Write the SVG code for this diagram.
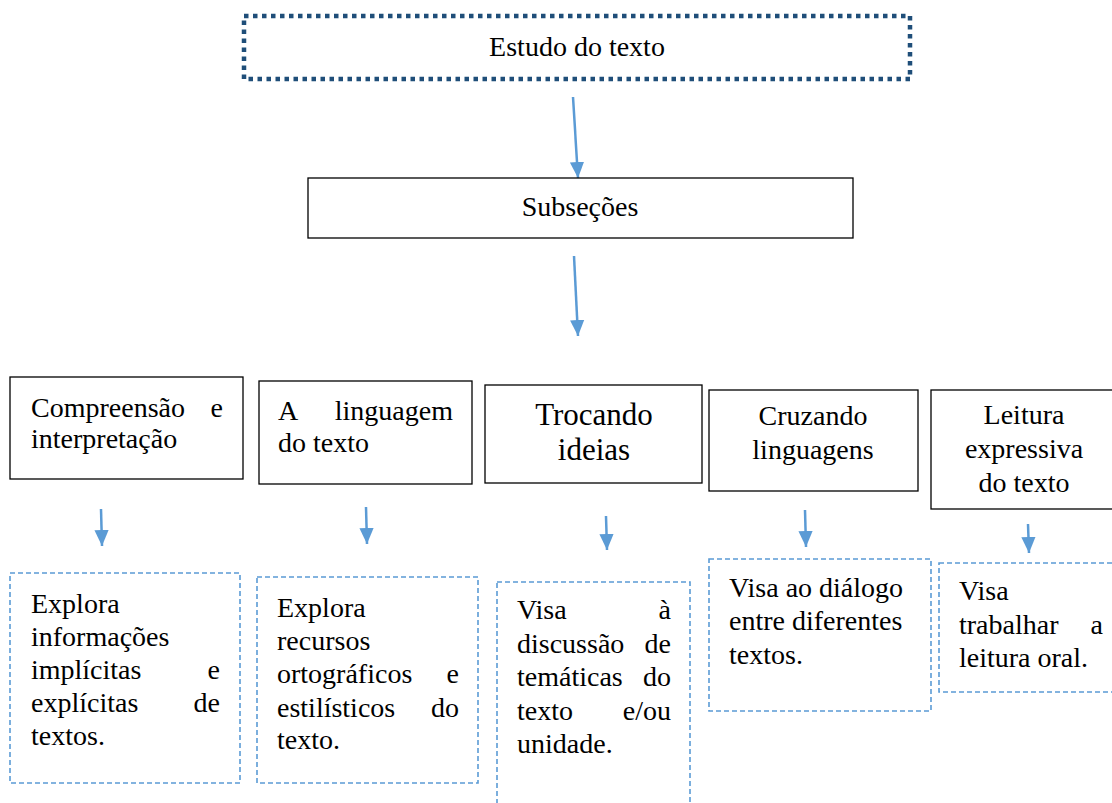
<svg xmlns="http://www.w3.org/2000/svg" width="1112" height="803" viewBox="0 0 1112 803" font-family="'Liberation Serif', 'Times New Roman', serif">
<defs>
<style>
text{font-size:28px;fill:#000}
.c{text-anchor:middle}
.r{text-anchor:end}
.big{font-size:31px}
.box{fill:#fff;stroke:#000;stroke-width:1.3}
.dash{fill:#fff;stroke:#5b9bd5;stroke-width:1.6;stroke-dasharray:5 3}
.top{fill:#fff;stroke:#1f4e79;stroke-width:4.5;stroke-dasharray:4.5 4.5}
.arr{stroke:#5b9bd5;stroke-width:2.5;fill:none;marker-end:url(#ah)}
</style>
<marker id="ah" markerUnits="userSpaceOnUse" markerWidth="16" markerHeight="16" refX="18" refY="8" orient="auto" viewBox="0 0 18 16">
<path d="M0,0 L18,8 L0,16 z" fill="#5b9bd5"/>
</marker>
</defs>
<g id="connectors">
<line class="arr" x1="573" y1="97" x2="578" y2="178"/>
<line class="arr" x1="574" y1="256" x2="578" y2="336"/>
<line class="arr" x1="101" y1="509" x2="102" y2="546"/>
<line class="arr" x1="366" y1="507" x2="367" y2="544"/>
<line class="arr" x1="606" y1="516" x2="607" y2="550"/>
<line class="arr" x1="805" y1="510" x2="806" y2="547"/>
<line class="arr" x1="1028" y1="524" x2="1029" y2="553"/>
</g>
<g id="estudo">
<rect class="top" x="244" y="16" width="666" height="63"/>
<text class="c" x="577" y="56">Estudo do texto</text>
</g>
<g id="subsecoes">
<rect class="box" x="308" y="178" width="545" height="60"/>
<text class="c" x="580" y="216">Subseções</text>
</g>
<g id="compreensao">
<rect class="box" x="10" y="377" width="233" height="102"/>
<text x="31" y="417">Compreensão</text><text class="r" x="223" y="417">e</text>
<text x="31" y="448">interpretação</text>
</g>
<g id="linguagem">
<rect class="box" x="259" y="381" width="213" height="103"/>
<text x="278" y="420">A</text><text class="r" x="453" y="420">linguagem</text>
<text x="278" y="452">do texto</text>
</g>
<g id="trocando">
<rect class="box" x="485" y="385" width="217" height="98"/>
<text class="c big" x="594" y="425">Trocando</text>
<text class="c big" x="594" y="460">ideias</text>
</g>
<g id="cruzando">
<rect class="box" x="709" y="390" width="209" height="101"/>
<text class="c" x="813" y="425">Cruzando</text>
<text class="c" x="813" y="459">linguagens</text>
</g>
<g id="leitura">
<rect class="box" x="931" y="390" width="190" height="119"/>
<text class="c" x="1024" y="424">Leitura</text>
<text class="c" x="1024" y="458">expressiva</text>
<text class="c" x="1024" y="492">do texto</text>
</g>
<g id="d1">
<rect class="dash" x="10" y="573" width="230" height="210"/>
<text x="31" y="613">Explora</text>
<text x="31" y="646">informações</text>
<text x="31" y="679">implícitas</text><text class="r" x="220" y="679">e</text>
<text x="31" y="712">explícitas</text><text class="r" x="220" y="712">de</text>
<text x="31" y="745">textos.</text>
</g>
<g id="d2">
<rect class="dash" x="257" y="577" width="221" height="206"/>
<text x="277" y="617">Explora</text>
<text x="277" y="650">recursos</text>
<text x="277" y="683">ortográficos</text><text class="r" x="459" y="683">e</text>
<text x="277" y="717">estilísticos</text><text class="r" x="459" y="717">do</text>
<text x="277" y="749">texto.</text>
</g>
<g id="d3">
<rect class="dash" x="497" y="582" width="193" height="230"/>
<text x="517" y="619">Visa</text><text class="r" x="671" y="619">à</text>
<text x="517" y="653">discussão</text><text class="r" x="671" y="653">de</text>
<text x="517" y="686">temáticas</text><text class="r" x="671" y="686">do</text>
<text x="517" y="720">texto</text><text class="r" x="671" y="720">e/ou</text>
<text x="517" y="753">unidade.</text>
</g>
<g id="d4">
<rect class="dash" x="709" y="559" width="222" height="152"/>
<text x="729" y="597">Visa ao diálogo</text>
<text x="729" y="630">entre diferentes</text>
<text x="729" y="664">textos.</text>
</g>
<g id="d5">
<rect class="dash" x="939" y="563" width="180" height="129"/>
<text x="959" y="600">Visa</text>
<text x="959" y="634">trabalhar</text><text class="r" x="1103" y="634">a</text>
<text x="959" y="667">leitura oral.</text>
</g>
</svg>
